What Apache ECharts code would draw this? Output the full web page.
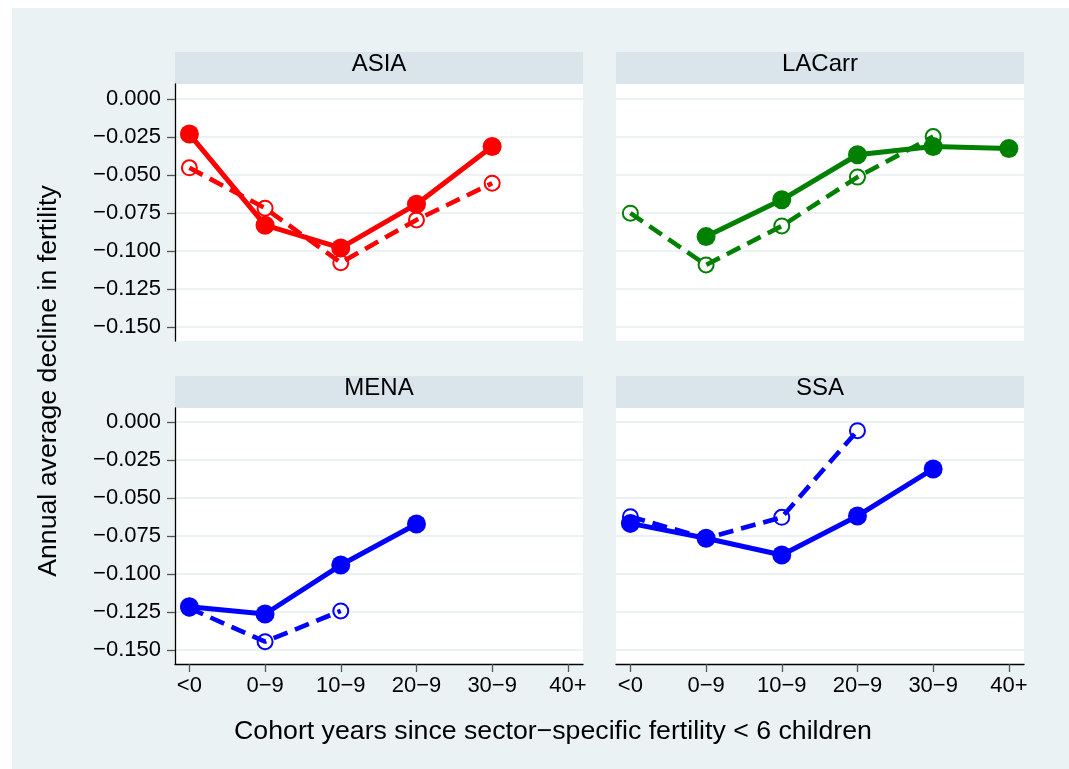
<!DOCTYPE html>
<html><head><meta charset="utf-8">
<script src="https://cdn.jsdelivr.net/npm/echarts@6/dist/echarts.min.js"></script>
<style>
html,body{margin:0;padding:0;background:#fff;width:1069px;height:769px;overflow:hidden}
#c{position:absolute;left:12px;top:8px;width:1057px;height:761px}
</style></head><body><div id="c"></div>
<script>
// ---- data ----
const categories = ['<0', '0\u22129', '10\u22129', '20\u22129', '30\u22129', '40+'];
const regions = ['ASIA', 'LACarr', 'MENA', 'SSA'];
const yTickValues = [0, -0.025, -0.05, -0.075, -0.1, -0.125, -0.15];
const yTickLabels = ['0.000', '\u22120.025', '\u22120.050', '\u22120.075', '\u22120.100', '\u22120.125', '\u22120.150'];
const xTitle = 'Cohort years since sector\u2212specific fertility < 6 children';
const yTitle = 'Annual average decline in fertility';

const asiaSolid  = [-0.0232, -0.0831, -0.0980, -0.0693, -0.0314, null];
const asiaDashed = [-0.0454, -0.0719, -0.1077, -0.0796, -0.0555, null];
const lacSolid   = [null, -0.0906, -0.0664, -0.0368, -0.0314, -0.0327];
const lacDashed  = [-0.0752, -0.1092, -0.0836, -0.0515, -0.0248, null];
const menaSolid  = [-0.1215, -0.1263, -0.0941, -0.0671, null, null];
const menaDashed = [-0.1225, -0.1445, -0.1243, null, null, null];
const ssaSolid   = [-0.0667, -0.0765, -0.0875, -0.0618, -0.0309, null];
const ssaDashed  = [-0.0623, -0.0765, -0.0627, -0.0057, null, null];

const solidSeries = [asiaSolid, lacSolid, menaSolid, ssaSolid];
const dashedSeries = [asiaDashed, lacDashed, menaDashed, ssaDashed];
const regionColors = ['#FF0000', '#008000', '#0000FF', '#0000FF'];

// ---- layout ----
const FONT = "'Liberation Sans', Arial, Helvetica, sans-serif";
const colLeft = [163, 604];
const rowTop = [76, 400];
const rowHeight = [257, 256];
const rowYMax = [0.0097, 0.0092];
const panelW = 408;
const stripH = 32;
const stripTextY = [56.5, 380];
const xIdx = categories.map((c, i) => i);

function toPairs(arr) {
  const out = [];
  arr.forEach((v, i) => { if (v !== null) out.push([i, v]); });
  return out;
}

const grids = [], xAxes = [], yAxes = [], series = [], graphics = [];
for (let i = 0; i < 4; i++) {
  const col = i % 2, row = Math.floor(i / 2);
  grids.push({
    left: colLeft[col], top: rowTop[row], width: panelW, height: rowHeight[row],
    show: true, backgroundColor: '#ffffff', borderWidth: 0, containLabel: false
  });
  const showX = row === 1, showY = col === 0;
  xAxes.push({
    type: 'value', gridIndex: i, min: -0.19, max: 5.2,
    axisLine: { show: showX, onZero: false, lineStyle: { color: '#000', width: 1.3 } },
    axisTick: { show: showX, customValues: xIdx, length: 8, lineStyle: { color: '#555', width: 1.3 } },
    axisLabel: { show: showX, customValues: xIdx, margin: 11, fontSize: 22, color: '#000', fontFamily: FONT,
      formatter: v => categories[Math.round(v)] },
    splitLine: { show: false }
  });
  yAxes.push({
    type: 'value', gridIndex: i, min: -0.1592, max: rowYMax[row],
    axisLine: { show: showY, onZero: false, lineStyle: { color: '#000', width: 1.3 } },
    axisTick: { show: showY, customValues: yTickValues, length: 8, lineStyle: { color: '#555', width: 1.3 } },
    axisLabel: { show: showY, customValues: yTickValues, margin: 14, fontSize: 22, color: '#000', fontFamily: FONT,
      formatter: v => {
        let best = 0;
        yTickValues.forEach((t, k) => { if (Math.abs(t - v) < Math.abs(yTickValues[best] - v)) best = k; });
        return yTickLabels[best];
      } },
    splitLine: { show: true, lineStyle: { color: '#EAF2F3', width: 2 } }
  });
  const color = regionColors[i];
  series.push({
    type: 'line', xAxisIndex: i, yAxisIndex: i, data: toPairs(dashedSeries[i]),
    symbol: 'circle', symbolSize: 15, clip: false, silent: true,
    itemStyle: { color: 'rgba(255,255,255,0)', borderColor: color, borderWidth: 2 },
    lineStyle: { color: color, width: 4.6, type: [15, 8] }
  });
  series.push({
    type: 'line', xAxisIndex: i, yAxisIndex: i, data: toPairs(solidSeries[i]),
    symbol: 'circle', symbolSize: 19, clip: false, silent: true,
    itemStyle: { color: color },
    lineStyle: { color: color, width: 5, type: 'solid' }
  });
  graphics.push({
    type: 'rect', left: colLeft[col], top: rowTop[row] - stripH, silent: true,
    shape: { width: panelW, height: stripH }, style: { fill: '#D9E5EB' }
  });
  graphics.push({
    type: 'text', x: colLeft[col] + panelW / 2, y: stripTextY[row], silent: true,
    style: { text: regions[i], fill: '#000', font: '24px ' + FONT, textAlign: 'center', textVerticalAlign: 'middle' }
  });
}
graphics.push({
  type: 'text', x: 541, y: 724, silent: true,
  style: { text: xTitle, fill: '#000', font: '26.7px ' + FONT, textAlign: 'center', textVerticalAlign: 'middle' }
});
graphics.push({
  type: 'text', x: 37, y: 373, rotation: Math.PI / 2, silent: true,
  style: { text: yTitle, fill: '#000', font: '26.7px ' + FONT, textAlign: 'center', textVerticalAlign: 'middle' }
});

const chart = echarts.init(document.getElementById('c'), null, { renderer: 'canvas' });
chart.setOption({
  animation: false,
  backgroundColor: '#EAF2F3',
  grid: grids, xAxis: xAxes, yAxis: yAxes, series: series,
  graphic: graphics,
  tooltip: { show: false }
});
</script></body></html>
